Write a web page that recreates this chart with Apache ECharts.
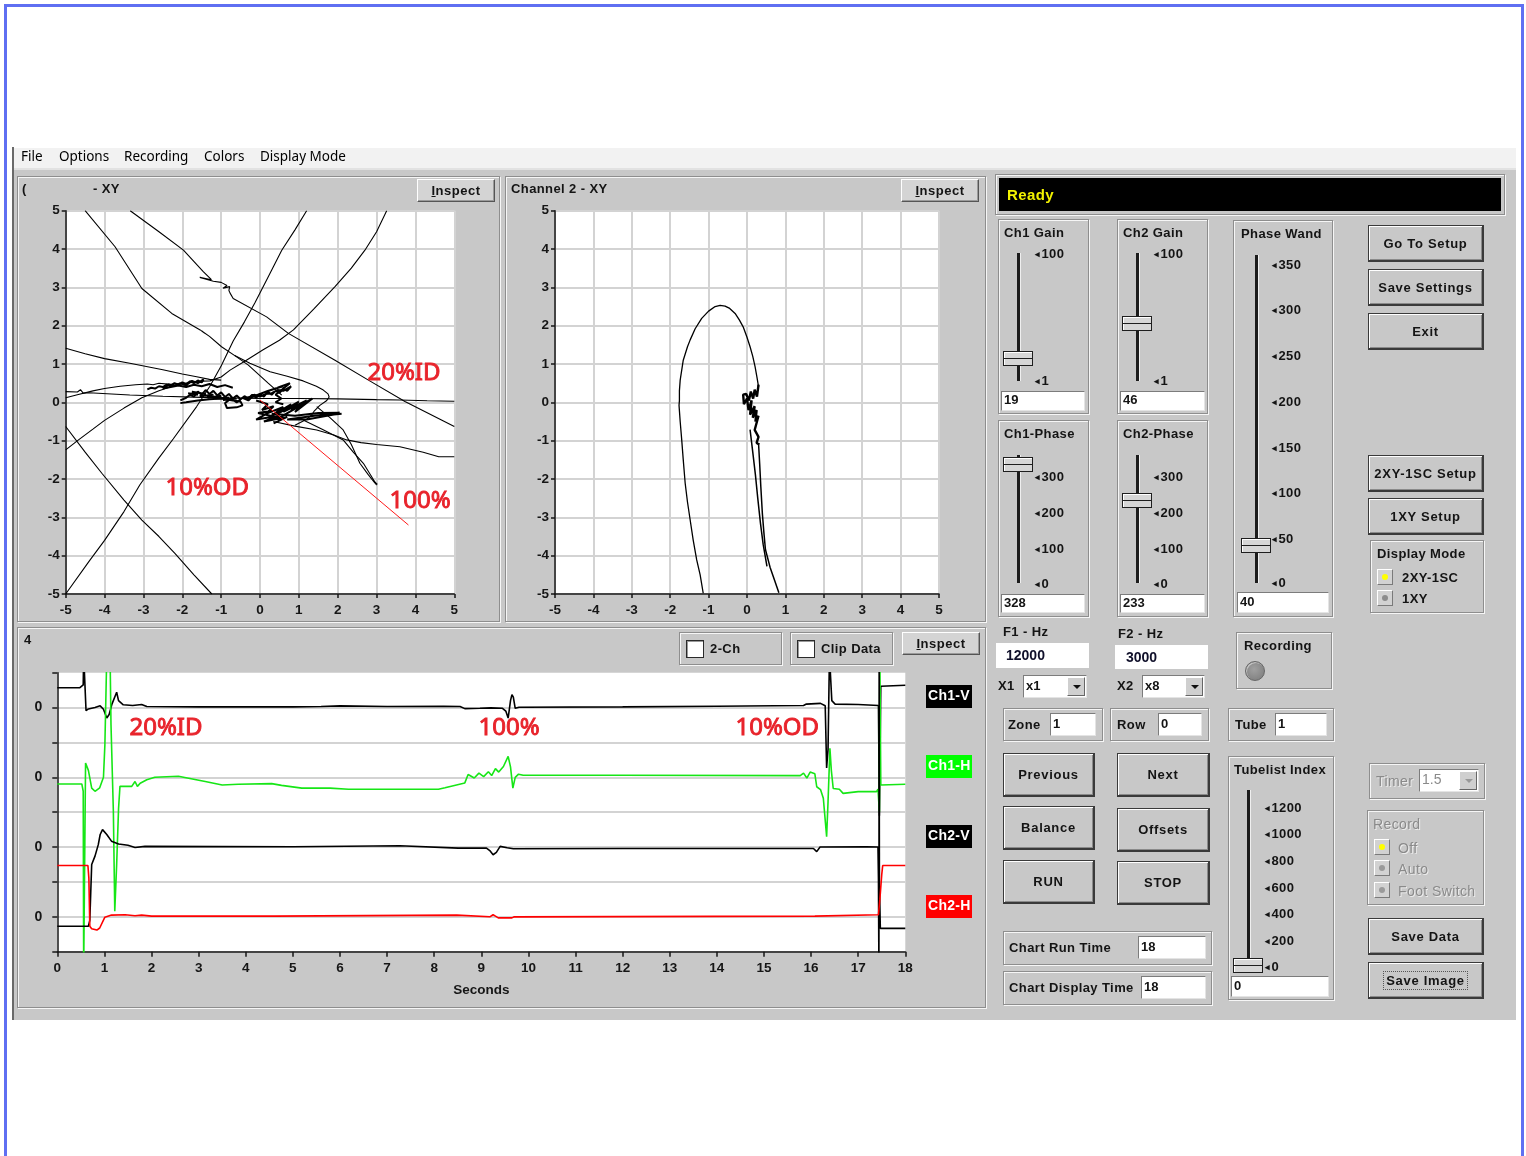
<!DOCTYPE html>
<html>
<head>
<meta charset="utf-8">
<title>Eddy Current Display</title>
<script src="https://cdn.jsdelivr.net/npm/echarts@6.0.0/dist/echarts.min.js"></script>
<style>
*{box-sizing:border-box}
html,body{margin:0;padding:0;background:#fff}
#page{position:relative;width:1526px;height:1156px;overflow:hidden;background:#fff}
#bg,#ui{position:absolute;left:0;top:0;width:1526px;height:1156px}
#ui{z-index:5}
.L{position:absolute}
.chart{position:absolute;z-index:2}
.t{position:absolute;white-space:nowrap;font:bold 13px "Liberation Sans",Arial,sans-serif;color:#141414;letter-spacing:.4px}
.menu{position:absolute;white-space:nowrap;font:13.5px "Noto Sans",sans-serif;color:#000}
.grp{position:absolute;border:1px solid #8e8e8e;box-shadow:inset 1px 1px 0 #f6f6f6,1px 1px 0 #f6f6f6}
.btn{position:absolute;background:#c8c8c8;border:1px solid #3a3a3a;border-bottom-width:2px;border-right-width:2px;box-shadow:inset 1px 1px 0 #fff,inset -1px -1px 0 #8a8a8a;display:flex;align-items:center;justify-content:center;font:bold 13px "Liberation Sans",Arial,sans-serif;letter-spacing:.7px;color:#141414;white-space:nowrap}
.btn2{position:absolute;background:#d4d4d4;border:1px solid;border-color:#fff #555 #555 #fff;box-shadow:inset -1px -1px 0 #9a9a9a;display:flex;align-items:center;justify-content:center;font:bold 13px "Liberation Sans",Arial,sans-serif;letter-spacing:.5px;color:#141414}
.tb{position:absolute;background:#fff;border:1px solid #7c7c7c;border-right-color:#e4e4e4;border-bottom-color:#e4e4e4;font:bold 13px "Liberation Sans",Arial,sans-serif;color:#141414;padding-left:2px;white-space:nowrap}
.track{position:absolute;background:#1c1c1c;box-shadow:1px 0 0 #efefef}
.thumb{position:absolute;background:#d6d6d6;border:1px solid #1e1e1e;box-shadow:inset 1px 1px 0 #fff}
.thumb i{position:absolute;left:0;right:0;top:6px;height:1px;background:#1e1e1e}
.tri{font-size:9px;position:relative;top:-1px;margin-right:1px}
.rad{position:absolute;width:16px;height:16px;background:#d2d2d2;border:1px solid;border-color:#fff #7a7a7a #7a7a7a #fff}
.rad b{position:absolute;left:4px;top:4px;width:6px;height:6px;border-radius:50%}
.cb{position:absolute;width:18px;height:18px;background:#fff;border:1px solid #2a2a2a;box-shadow:inset 1px 1px 0 #999}
.arrow{position:absolute;background:#cfcfcf;border:1px solid;border-color:#fff #666 #666 #fff}
.arrow span{position:absolute;left:5px;top:7px;border-left:4px solid transparent;border-right:4px solid transparent;border-top:4px solid #111}
.leg{position:absolute;color:#fff;font:bold 14px "Liberation Sans",Arial,sans-serif;line-height:21px;padding-left:2px;letter-spacing:.3px;white-space:nowrap}
.dis{color:#8a8a8a !important;text-shadow:1px 1px 0 #ececec}
.lamp{position:absolute;border-radius:50%;background:radial-gradient(circle at 45% 40%,#a0a0a0,#7a7a7a);border:1px solid #666;box-shadow:inset 1px 1px 0 #c4c4c4}
</style>
</head>
<body>
<div id="page">
  <div id="bg"></div>
  <div id="xy1" class="chart" style="left:18px;top:177px;width:481px;height:444px"></div>
  <div id="xy2" class="chart" style="left:506px;top:177px;width:479px;height:444px"></div>
  <div id="strip" class="chart" style="left:18px;top:628px;width:967px;height:380px"></div>
  <div id="ui"></div>
</div>
<script>
// ---------------- Channel 1 impedance-plane traces (x = horizontal, y = vertical) ----------------
const xyRange = [-5, 5];
const ch1TraceA = [[-4.5,5],[-3.73,4.06],[-3.04,2.97],[-2.27,2.32],[-1.54,1.89],[-1.42,1.8],[-1.5,1.86],[-1.3,1.72],[-0.99,1.45],[-0.62,1.2],[-0.3,0.97],[0.21,0.5],[0.56,0.19]];
const ch1TraceB = [[-3.34,5],[-2.6,4.45],[-1.97,3.97],[-1.46,3.41],[-1.25,3.2],[-1.55,3.26],[-1.2,3.16],[-1.0,3.13],[-0.85,3.05],[-0.95,2.98],[-0.78,3.02],[-0.8,2.92],[-0.77,2.85],[-0.69,2.71],[0.17,2.23],[0.73,1.8],[1.93,1.1],[2.79,0.58],[3.73,0.02],[5,-0.63]];
const ch1TraceC = [[-5,-5],[-4.4,-4.15],[-4,-3.6],[-3.5,-2.85],[-3.09,-2.15],[-2.6,-1.45],[-2.23,-0.95],[-1.63,-0.11],[-1.29,0.42],[-1.0,0.95],[-0.69,1.6],[-0.4,2.1],[-0.13,2.6],[0.2,3.25],[0.56,3.97],[0.9,4.5],[1.2,5]];
const ch1TraceD = [[-5,-1.24],[-4.67,-0.98],[-4.3,-0.7],[-4,-0.47],[-3.5,-0.15],[-3.04,0.12],[-2.6,0.3],[-2.2,0.44],[-1.8,0.52],[-1.5,0.55],[-1.29,0.56],[-1.0,0.66],[-0.77,0.84],[-0.35,1.1],[0.08,1.37],[0.5,1.62],[0.86,1.89],[1.4,2.45],[1.93,3.02],[2.35,3.5],[2.7,3.97],[3.0,4.45],[3.26,5]];
const ch1TraceE = [[-5,-0.63],[-4.5,-1.3],[-4.07,-1.85],[-3.5,-2.55],[-3.04,-3.07],[-2.6,-3.5],[-2.19,-3.94],[-1.7,-4.5],[-1.24,-5]];
const ch1TraceF = [[-5,1.41],[-4.5,1.27],[-4,1.14],[-3.35,1.02],[-2.5,0.85],[-2.0,0.74],[-1.63,0.67],[-1.3,0.6],[-1.0,0.58]];
const ch1TraceG = [[-5,0.28],[-4.7,0.27],[-4.62,0.33],[-4.55,0.24],[-4.4,0.25],[-3.35,0.19],[-2.5,0.16],[-1.5,0.13],[0,0.1],[1,0.1],[2,0.09],[3,0.07],[3.6,0.06],[4.3,0.04],[5,0.03]];
const ch1TraceH = [[0.34,-0.5],[0.9,-0.62],[1.46,-0.72],[1.9,-0.85],[2.23,-0.98],[2.6,-1.05],[3.0,-1.1],[3.6,-1.16],[4.2,-1.3],[4.6,-1.42],[5,-1.42]];
const ch1TraceK = [[-0.65,1.22],[-0.26,1.02],[0.26,0.8],[0.7,0.68],[1.11,0.56],[1.45,0.42],[1.63,0.32],[1.75,0.22],[1.78,0.14],[1.71,0.04],[1.54,-0.08],[1.4,-0.22],[1.33,-0.33],[1.2,-0.44],[1.05,-0.52],[0.9,-0.6]];
const ch1TraceW = [[-5,0.12],[-4.7,0.2],[-4.3,0.3],[-4,0.36],[-3.6,0.42],[-3.2,0.46],[-2.9,0.48],[-2.75,0.46],[-2.6,0.5],[-2.3,0.47],[-2.0,0.5]];
const ch1TraceL1 = [[1.11,-0.46],[1.6,-0.7],[2.14,-0.98],[2.4,-1.3],[2.66,-1.59],[2.85,-1.9],[3.0,-2.16]];
const ch1TraceL2 = [[1.46,-0.11],[1.8,-0.4],[2.14,-0.72],[2.35,-1.1],[2.57,-1.59],[2.78,-1.88],[2.96,-2.11],[2.9,-2.02],[3.02,-2.14]];
const ch1Noise1 = [[-2.9,0.34],[-2.8,0.38],[-2.7,0.36],[-2.6,0.42],[-2.5,0.40],[-2.4,0.46],[-2.3,0.43],[-2.2,0.50],[-2.1,0.46],[-2.0,0.52],[-1.9,0.48],[-1.8,0.55],[-1.7,0.50],[-1.6,0.57],[-1.5,0.52],[-1.45,0.6],[-1.6,0.50],[-1.75,0.56],[-1.9,0.45],[-2.05,0.5],[-2.2,0.42],[-2.35,0.47],[-2.5,0.36],[-2.3,0.40],[-2.1,0.44],[-1.9,0.40],[-1.7,0.46],[-1.5,0.42],[-1.3,0.48],[-1.1,0.40],[-0.9,0.45],[-0.7,0.38]];
const ch1Noise2 = [[-2.05,0.05],[-1.9,0.12],[-1.8,0.2],[-1.7,0.15],[-1.6,0.28],[-1.5,0.2],[-1.4,0.32],[-1.3,0.22],[-1.2,0.3],[-1.1,0.18],[-1.0,0.26],[-0.9,0.14],[-0.8,0.22],[-0.7,0.1],[-0.6,0.18],[-0.5,0.08],[-0.4,0.16],[-0.3,0.1],[-0.2,0.2],[-0.1,0.12],[0.0,0.22],[0.1,0.15],[0.2,0.28],[0.3,0.2],[0.4,0.3],[0.5,0.25],[0.6,0.35],[0.7,0.3],[0.8,0.42],[0.75,0.38],[0.6,0.3],[0.45,0.32],[0.3,0.24],[0.15,0.22],[0.0,0.15],[-0.15,0.2],[-0.3,0.05],[-0.45,0.12],[-0.6,0.0],[-0.75,0.1],[-0.9,-0.02],[-0.85,-0.15],[-0.6,-0.13],[-0.45,-0.08],[-0.5,0.02],[-0.7,0.05],[-1.0,0.1],[-1.3,0.08],[-1.6,0.05],[-1.9,0.0],[-2.05,-0.02]];
const ch1Noise3 = [[-0.1,0.05],[0.2,-0.05],[0.05,-0.2],[0.35,-0.1],[0.15,-0.3],[0.6,-0.12],[0.3,-0.35],[0.8,-0.05],[0.45,-0.3],[1.0,0.02],[0.6,-0.25],[1.2,0.05],[0.8,-0.2],[1.35,0.1],[0.9,-0.25],[1.1,-0.05],[0.5,-0.4],[-0.05,-0.28],[0.3,-0.22],[-0.1,-0.45],[0.5,-0.35],[0.1,-0.5],[0.7,-0.38],[0.35,-0.55]];
const ch1Noise4 = [[0.3,-0.3],[0.9,-0.35],[1.5,-0.28],[2.05,-0.27],[1.4,-0.35],[0.7,-0.45],[1.2,-0.45],[1.9,-0.32],[2.1,-0.3]];
const ch1Noise5 = [[-1.85,0.24],[-1.6,0.2],[-1.75,0.28],[-1.4,0.22],[-1.55,0.16],[-1.2,0.2],[-1.35,0.12],[-1.0,0.17],[-1.15,0.1],[-0.8,0.12],[-0.95,0.06],[-0.6,0.1]];
const ch1Noise6 = [[-0.35,0.12],[0.0,0.2],[-0.2,0.14],[0.2,0.3],[0.0,0.22],[0.4,0.36],[0.2,0.3],[0.6,0.42],[0.45,0.38],[0.77,0.5],[0.4,0.2],[0.55,0.1],[0.4,0.0],[0.6,-0.05]];
const ch1Reference = [[0,0.06],[3.82,-3.2]];

// ---------------- Channel 2 impedance-plane traces ----------------
const ch2Loop = [[-1.14,-4.98],[-1.22,-4.5],[-1.31,-4.11],[-1.4,-3.6],[-1.48,-3.07],[-1.55,-2.6],[-1.61,-2.11],[-1.66,-1.5],[-1.70,-0.98],[-1.74,-0.5],[-1.77,-0.08],[-1.76,0.05],[-1.76,0.3],[-1.74,0.58],[-1.66,1.1],[-1.55,1.45],[-1.48,1.63],[-1.35,1.92],[-1.18,2.19],[-1.0,2.38],[-0.83,2.5],[-0.7,2.53],[-0.57,2.51],[-0.45,2.45],[-0.31,2.32],[-0.2,2.15],[-0.1,1.97],[0.0,1.7],[0.08,1.45],[0.15,1.2],[0.21,0.93],[0.26,0.65],[0.3,0.41],[0.28,0.3]];
const ch2Scribble = [[0.28,0.3],[0.3,0.46],[0.26,0.15],[0.2,0.33],[0.16,0.1],[0.1,0.28],[0.05,0.05],[-0.02,0.22],[-0.1,0.2],[-0.08,-0.05],[0.0,0.1],[0.04,-0.2],[0.12,0.05],[0.08,-0.32],[0.2,-0.1],[0.15,-0.4],[0.25,-0.2],[0.22,-0.5],[0.3,-0.35],[0.2,-0.72],[0.3,-0.9],[0.25,-1.06],[0.32,-1.1]];
const ch2TailA = [[0.3,-1.06],[0.33,-1.6],[0.36,-2.2],[0.4,-2.9],[0.44,-3.4],[0.48,-3.84],[0.6,-4.3],[0.72,-4.65],[0.83,-4.97]];
const ch2TailB = [[0.08,-0.71],[0.15,-1.3],[0.22,-1.9],[0.28,-2.5],[0.35,-3.15],[0.42,-3.7],[0.52,-4.28]];

// ---------------- Strip chart (seconds vs stacked trace level) ----------------
const secondsRange = [0, 18];
const levelRange = [0, 8];
const stripTickLabels = ['', '0', '', '0', '', '0', '', '0', ''];
const stripNames = ['Ch1-V', 'Ch1-H', 'Ch2-V', 'Ch2-H'];
const ch1V = [[0,7.57],[0.48,7.57],[0.52,7.62],[0.55,7.65],[0.56,8.5],[0.6,8.5],[0.61,6.91],[0.66,6.96],[0.8,7.0],[0.91,7.05],[0.98,6.95],[1.05,6.70],[1.1,6.8],[1.16,7.1],[1.26,7.44],[1.3,7.2],[1.4,7.08],[1.6,7.06],[1.79,7.09],[1.9,7.03],[3,7.02],[5,7.02],[5.6,7.03],[6.0,7.05],[7,7.03],[8.2,7.04],[8.55,7.03],[8.65,6.97],[8.97,6.98],[9.2,6.99],[9.45,6.98],[9.52,6.9],[9.57,6.70],[9.62,7.2],[9.65,7.37],[9.68,7.3],[9.72,6.98],[9.8,7.01],[12,7.02],[14,7.04],[15.84,7.06],[15.9,7.1],[16.2,7.12],[16.3,7.05],[16.33,5.27],[16.36,5.8],[16.39,8.5],[16.42,8.5],[16.44,7.2],[16.51,7.10],[17,7.09],[17.43,7.06],[17.45,3.9],[17.48,7.61],[18,7.64]];
const ch1H = [[0,4.81],[0.52,4.81],[0.55,4.6],[0.56,-0.5],[0.58,-0.5],[0.6,5.41],[0.66,5.2],[0.73,4.69],[0.8,4.6],[0.9,4.7],[0.98,5.0],[1.01,5.93],[1.05,8.5],[1.12,8.5],[1.14,6.5],[1.19,4.03],[1.22,1.16],[1.26,2.5],[1.3,4.1],[1.33,4.74],[1.58,4.74],[1.65,4.88],[1.7,4.74],[1.76,4.83],[1.9,4.93],[2.07,5.0],[2.57,5.03],[3.14,4.88],[3.5,4.78],[3.84,4.8],[4.55,4.82],[4.76,4.77],[5.19,4.69],[5.79,4.69],[6.18,4.66],[8.09,4.66],[8.23,4.7],[8.65,4.84],[8.72,5.08],[8.85,4.98],[8.95,5.12],[9.05,5.02],[9.15,5.16],[9.22,5.05],[9.3,5.25],[9.37,5.15],[9.47,5.31],[9.57,5.60],[9.62,5.3],[9.67,4.69],[9.72,5.0],[9.79,5.09],[9.89,5.06],[12,5.06],[15.77,5.05],[15.84,5.12],[15.91,4.98],[15.98,5.15],[16.08,5.1],[16.12,4.73],[16.2,4.65],[16.26,4.40],[16.33,3.30],[16.36,4.3],[16.40,5.83],[16.43,5.2],[16.47,4.68],[16.6,4.66],[16.68,4.54],[17.0,4.59],[17.39,4.59],[17.42,4.66],[17.45,4.01],[17.46,8.5],[17.48,4.78],[18,4.80]];
const ch2V = [[0,0.73],[0.66,0.73],[0.69,0.9],[0.73,2.5],[0.8,2.74],[0.87,3.07],[0.91,3.36],[0.96,3.5],[1.05,3.36],[1.15,3.17],[1.3,3.09],[1.5,3.05],[1.65,2.99],[1.86,3.02],[5,3.01],[7.27,3.04],[8.51,2.97],[9.11,2.97],[9.18,2.9],[9.25,2.78],[9.32,2.85],[9.40,3.02],[9.55,2.98],[9.68,2.95],[12,2.96],[16.05,2.96],[16.12,2.87],[16.19,3.0],[17.18,3.01],[17.42,3.0],[17.43,2.1],[17.44,-0.5],[17.445,8.5],[17.45,2.0],[17.47,0.67],[18,0.67]];
const ch2H = [[0,2.47],[0.65,2.47],[0.67,2.11],[0.69,0.73],[0.73,0.66],[0.84,0.62],[0.9,0.68],[1.01,0.99],[1.15,1.05],[1.44,1.06],[1.65,1.03],[1.79,1.05],[2.0,1.02],[4.62,1.02],[4.66,1.05],[8.48,1.05],[8.51,1.0],[9.18,1.0],[9.25,1.06],[9.3,1.02],[9.36,0.97],[9.65,0.97],[9.7,1.0],[16.08,1.02],[16.12,1.06],[17.43,1.06],[17.46,1.5],[17.5,2.21],[17.52,2.47],[18,2.47]];

// ---------------- shared styling ----------------
const FONT = '"Liberation Sans", Arial, sans-serif';
const INK = '#161616';
const NOTE = '#e8232b';
const LABEL = { color: INK, fontSize: 13.5, fontWeight: 'bold', fontFamily: FONT };

function axis(range, extra) {
  return Object.assign({
    type: 'value', min: range[0], max: range[1], interval: 1,
    axisLine: { onZero: false, lineStyle: { color: INK, width: 1.5 } },
    axisTick: { show: true, length: 4, lineStyle: { color: INK, width: 1.5 } },
    axisLabel: Object.assign({ margin: 6 }, LABEL),
    splitLine: { show: true, lineStyle: { color: '#d3d3d3', width: 2 } }
  }, extra || {});
}
function trace(data, color, width) {
  return { type: 'line', data: data, symbol: 'none', showSymbol: false, clip: true, silent: true,
           lineStyle: { color: color || '#000', width: width || 1.1 } };
}
function note(text, left, top) {
  return { type: 'text', left: left, top: top, silent: true, z: 100,
           style: { text: text, fill: NOTE, stroke: NOTE, lineWidth: 0.9, font: '24px "Noto Sans", sans-serif' } };
}

// ---------------- Channel 1 - XY ----------------
const xy1 = echarts.init(document.getElementById('xy1'));
xy1.setOption({
  animation: false,
  grid: { left: 47.7, top: 33.7, width: 388.6, height: 383.3, show: true, backgroundColor: '#fff', borderWidth: 0, outerBoundsMode: 'none' },
  xAxis: axis(xyRange, { axisLabel: Object.assign({ margin: 9 }, LABEL) }),
  yAxis: axis(xyRange),
  series: [ch1TraceA, ch1TraceB, ch1TraceC, ch1TraceD, ch1TraceE, ch1TraceF, ch1TraceG, ch1TraceH,
           ch1TraceK, ch1TraceW, ch1TraceL1, ch1TraceL2].map(d => trace(d))
    .concat([ch1Noise1, ch1Noise2, ch1Noise3, ch1Noise4, ch1Noise5, ch1Noise6].map(d => trace(d, '#000', 2)))
    .concat([trace(ch1Reference, '#ff1a1a', 1)]),
  graphic: [note('20%ID', 349, 184), note('10%OD', 147, 299), note('100%', 371, 312)]
});

// ---------------- Channel 2 - XY ----------------
const xy2 = echarts.init(document.getElementById('xy2'));
xy2.setOption({
  animation: false,
  grid: { left: 49, top: 33.7, width: 384, height: 383.3, show: true, backgroundColor: '#fff', borderWidth: 0, outerBoundsMode: 'none' },
  xAxis: axis(xyRange, { axisLabel: Object.assign({ margin: 9 }, LABEL) }),
  yAxis: axis(xyRange),
  series: [trace(ch2Loop, '#000', 1.3), trace(ch2Scribble, '#000', 2.4), trace(ch2TailA, '#000', 1.5), trace(ch2TailB, '#000', 1.5)]
});

// ---------------- strip chart ----------------
const stripColors = ['#000000', '#16e616', '#000000', '#ff0000'];
const strip = echarts.init(document.getElementById('strip'));
strip.setOption({
  animation: false,
  grid: { left: 39.3, top: 44.7, width: 848, height: 279, show: true, backgroundColor: '#fff', borderWidth: 0, outerBoundsMode: 'none' },
  xAxis: axis(secondsRange, {
    splitLine: { show: false },
    axisTick: { show: true, length: 5, lineStyle: { color: INK, width: 1.5 } },
    axisLabel: Object.assign({ margin: 10 }, LABEL),
    name: 'Seconds', nameLocation: 'middle', nameGap: 32,
    nameTextStyle: LABEL
  }),
  yAxis: axis(levelRange, {
    axisTick: { show: true, length: 5, lineStyle: { color: INK, width: 1.5 } },
    axisLabel: Object.assign({ margin: 15, formatter: v => stripTickLabels[Math.round(v)] }, LABEL, { fontSize: 14 }),
    splitLine: { show: true, showMaxLine: false, lineStyle: { color: '#d3d3d3', width: 2 } }
  }),
  series: [ch1V, ch1H, ch2V, ch2H].map((d, i) => Object.assign(trace(d, stripColors[i], 1.6), { name: stripNames[i] })),
  graphic: [note('20%ID', 111, 88), note('100%', 460, 88), note('10%OD', 717, 88)]
});

// ---------------- window chrome and instrument controls ----------------
const bg = document.getElementById('bg'), ui = document.getElementById('ui');
function add(parent, cls, x, y, w, h, html, css) {
  const d = document.createElement('div');
  d.className = cls;
  let s = 'left:' + x + 'px;top:' + y + 'px;';
  if (w != null) s += 'width:' + w + 'px;';
  if (h != null) s += 'height:' + h + 'px;';
  d.style.cssText = s + (css || '');
  if (html != null) d.innerHTML = html;
  parent.appendChild(d);
  return d;
}
const label = (x, yc, s, css) => add(ui, 't', x, yc - 8, null, 16, s, 'line-height:16px;' + (css || ''));
const group = (x, y, w, h, layer) => add(layer || ui, 'grp', x, y, w, h);
const button = (x, y, w, h, s, css) => add(ui, 'btn', x, y, w, h, s, css);
const field = (x, y, w, h, s, css) => add(ui, 'tb', x, y, w, h, s, 'line-height:' + (h - 4) + 'px;' + (css || ''));
function slider(trackX, top, bottom, thumbY, labelX, marks) {
  add(ui, 'track', trackX, top, 3, bottom - top);
  add(ui, 'thumb', trackX - 14, thumbY, 30, 15, '<i></i>');
  marks.forEach(m => label(labelX, m[1], '<span class="tri">◂</span>' + m[0]));
}
function radio(x, y, dot) { add(ui, 'rad', x, y, 16, 16, '<b style="background:' + dot + '"></b>'); }
function dropdown(x, y, w, h, s, dis) {
  field(x, y, w, h, s, dis ? 'color:#8a8a8a;font-weight:normal;font-size:14px' : '');
  add(ui, 'arrow', x + w - 20, y + 2, 18, h - 4, '<span' + (dis ? ' style="border-top-color:#999"' : '') + '></span>');
}
function disabledLabel(x, yc, s) {
  label(x, yc, s, 'font-weight:normal;font-size:14px');
  ui.lastChild.classList.add('dis');
}

// frame, menu and window face
add(bg, 'L', 4, 4, 1520, 1170, '', 'border:3px solid #5f6ff2');
add(bg, 'L', 14, 148, 1502, 20, '', 'background:#f2f2f2');
add(bg, 'L', 14, 168, 1502, 852, '', 'background:#c8c8c8;border-top:2px solid #e2e2e2');
add(bg, 'L', 12, 147, 2, 873, '', 'background:#6a6a6a');
[['File', 21], ['Options', 59], ['Recording', 124], ['Colors', 204], ['Display Mode', 260]]
  .forEach(m => add(ui, 'menu', m[1], 147, null, 18, m[0], 'line-height:18px'));

// chart panels
group(17, 176, 483, 446, bg);
group(505, 176, 481, 446, bg);
group(17, 627, 969, 381, bg);
label(22, 189, '(');
label(93, 189, '- XY');
add(ui, 'btn2', 417, 179, 78, 23, '<u>I</u>nspect');
label(511, 189, 'Channel 2 - XY');
add(ui, 'btn2', 901, 179, 78, 23, '<u>I</u>nspect');
label(24, 640, '4');
group(679, 632, 103, 33); add(ui, 'cb', 686, 640, 18, 18); label(710, 649, '2-Ch');
group(790, 632, 103, 33); add(ui, 'cb', 797, 640, 18, 18); label(821, 649, 'Clip Data');
add(ui, 'btn2', 902, 632, 78, 23, '<u>I</u>nspect');
const legendTops = [685, 755, 825, 895];
const legendFills = ['#000', '#00ff00', '#000', '#ff0000'];
stripNames.forEach((n, i) => add(ui, 'leg', 926, legendTops[i], 46, 23, n, 'background:' + legendFills[i]));

// status bar
group(995, 174, 510, 41);
add(ui, 'L', 999, 178, 502, 33, 'Ready', 'background:#000;color:#f2f200;font:bold 15px "Liberation Sans",Arial,sans-serif;line-height:33px;padding-left:8px;letter-spacing:.4px');

// gain and phase sliders
group(998, 219, 91, 195); label(1004, 233, 'Ch1 Gain');
slider(1017, 253, 381, 351, 1035, [['100', 254], ['1', 381]]);
field(1001, 391, 84, 20, '19');
group(1117, 219, 91, 195); label(1123, 233, 'Ch2 Gain');
slider(1136, 253, 381, 316, 1154, [['100', 254], ['1', 381]]);
field(1120, 391, 85, 20, '46');
group(998, 420, 91, 197); label(1004, 434, 'Ch1-Phase');
slider(1017, 455, 583, 457, 1035, [['300', 477], ['200', 513], ['100', 549], ['0', 584]]);
field(1001, 594, 84, 19, '328');
group(1117, 420, 91, 197); label(1123, 434, 'Ch2-Phase');
slider(1136, 455, 583, 493, 1154, [['300', 477], ['200', 513], ['100', 549], ['0', 584]]);
field(1120, 594, 85, 19, '233');
group(1233, 220, 100, 397); label(1241, 234, 'Phase Wand');
slider(1255, 255, 583, 538, 1272, [['350', 265], ['300', 310], ['250', 356], ['200', 402], ['150', 448], ['100', 493], ['50', 539], ['0', 583]]);
field(1237, 592, 92, 21, '40');

// setup buttons
[['Go To Setup', 225], ['Save Settings', 269], ['Exit', 313], ['2XY-1SC Setup', 455], ['1XY Setup', 498]]
  .forEach(b => button(1368, b[1], 116, 37, b[0]));
group(1370, 540, 114, 73); label(1377, 554, 'Display Mode');
radio(1377, 569, '#ffff00'); label(1402, 578, '2XY-1SC');
radio(1377, 590, '#8c8c8c'); label(1402, 599, '1XY');

// frequencies and multipliers
label(1003, 632, 'F1 - Hz');
add(ui, 'L', 996, 643, 93, 25, '12000', 'background:#fff;font:bold 14px "Liberation Sans",Arial,sans-serif;color:#10102a;line-height:25px;padding-left:10px');
label(1118, 634, 'F2 - Hz');
add(ui, 'L', 1115, 645, 93, 24, '3000', 'background:#fff;font:bold 14px "Liberation Sans",Arial,sans-serif;color:#10102a;line-height:24px;padding-left:11px');
label(998, 686, 'X1'); dropdown(1023, 675, 64, 23, 'x1');
label(1117, 686, 'X2'); dropdown(1142, 675, 63, 23, 'x8');
group(1236, 632, 96, 57); label(1244, 646, 'Recording');
add(ui, 'lamp', 1245, 661, 20, 20);

// location fields
group(1003, 708, 100, 33); label(1008, 725, 'Zone'); field(1050, 713, 46, 23, '1');
group(1110, 708, 99, 33); label(1117, 725, 'Row'); field(1158, 713, 44, 23, '0');
group(1228, 708, 106, 33); label(1235, 725, 'Tube'); field(1275, 713, 52, 23, '1');

// run controls
button(1003, 753, 92, 44, 'Previous'); button(1117, 753, 93, 44, 'Next');
button(1003, 806, 92, 44, 'Balance'); button(1117, 808, 93, 44, 'Offsets');
button(1003, 860, 92, 44, 'RUN'); button(1117, 861, 93, 44, 'STOP');

// tubelist index
group(1228, 756, 106, 244); label(1234, 770, 'Tubelist Index');
slider(1247, 790, 960, 958, 1265, [['1200', 808], ['1000', 834], ['800', 861], ['600', 888], ['400', 914], ['200', 941], ['0', 967]]);
field(1231, 976, 98, 21, '0');

// timer and record mode (disabled)
group(1369, 763, 116, 36); disabledLabel(1376, 781, 'Timer');
dropdown(1419, 769, 60, 23, '1.5', true);
group(1367, 810, 117, 95); disabledLabel(1373, 824, 'Record');
radio(1374, 839, '#ffff00'); disabledLabel(1398, 848, 'Off');
radio(1374, 860, '#9a9a9a'); disabledLabel(1398, 869, 'Auto');
radio(1374, 882, '#9a9a9a'); disabledLabel(1398, 891, 'Foot Switch');

// saving
button(1368, 918, 116, 37, 'Save Data');
button(1368, 962, 116, 37, '<span style="border:1px dotted #555;padding:1px 2px">Save Image</span>');

// chart timing
group(1003, 931, 209, 34); label(1009, 948, 'Chart Run Time'); field(1138, 936, 68, 23, '18');
group(1003, 971, 209, 34); label(1009, 988, 'Chart Display Time'); field(1141, 976, 65, 23, '18');
</script>
</body>
</html>
